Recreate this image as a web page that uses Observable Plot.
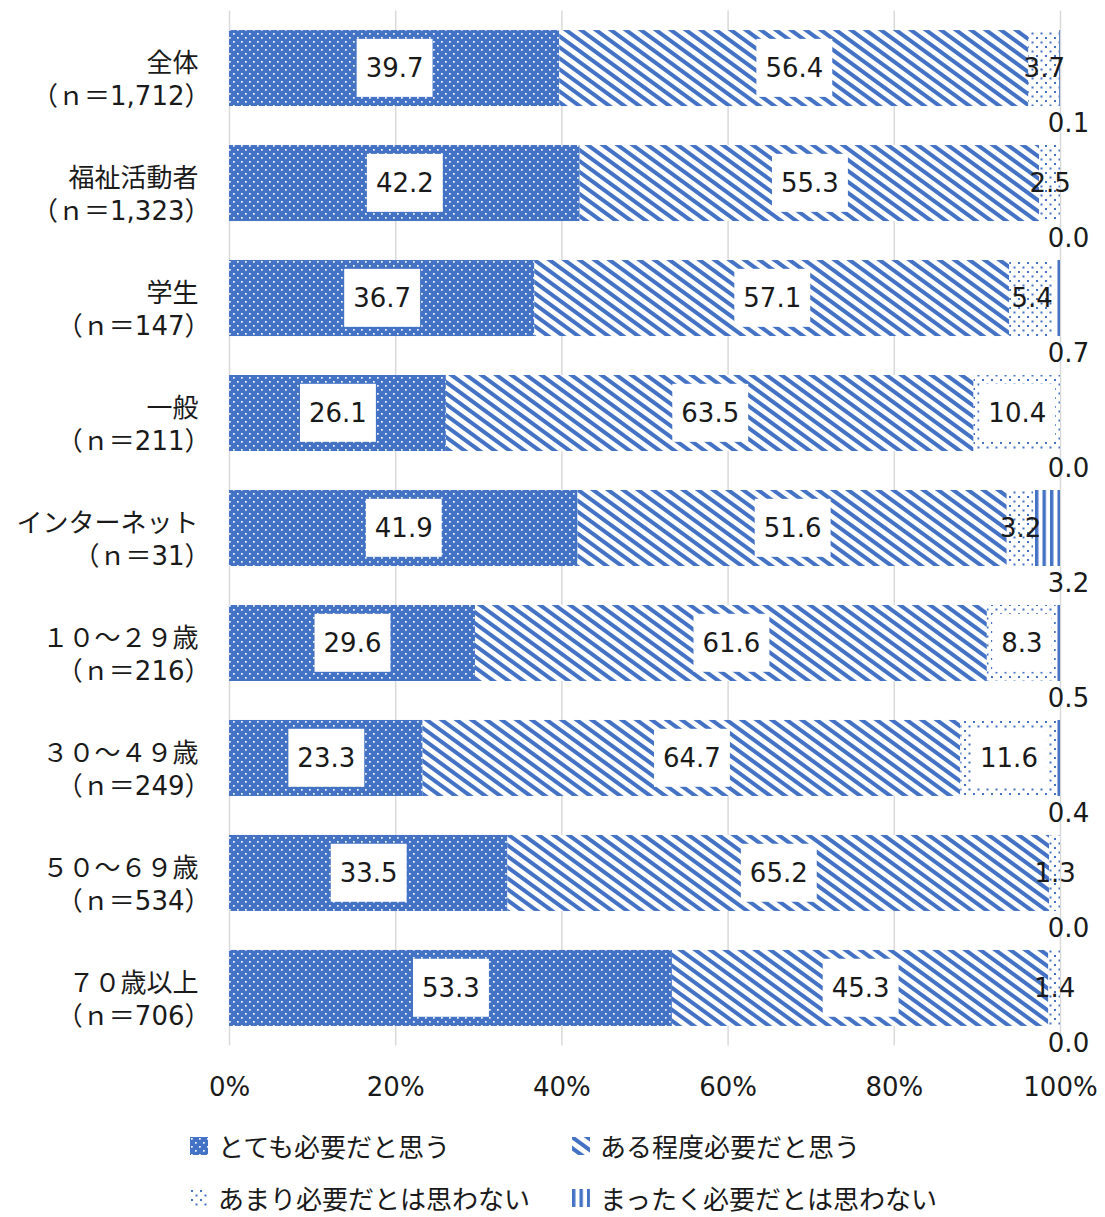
<!DOCTYPE html>
<html><head><meta charset="utf-8">
<script src="https://cdn.jsdelivr.net/npm/d3@7"></script>
<script src="https://cdn.jsdelivr.net/npm/@observablehq/plot@0.6"></script>
<style>
body{margin:0;background:#fff;font-family:"DejaVu Sans","Noto Sans CJK JP",sans-serif;}
#chart{width:1105px;}
.legend{position:relative;width:1105px;height:102px;font-family:"Noto Sans CJK JP",sans-serif;font-size:26px;color:#1a1a1a;}
.item{position:absolute;display:flex;align-items:center;height:34px;white-space:nowrap;line-height:1;}
.sw{width:18px;height:18px;margin-right:10px;display:block;}
</style></head>
<body>
<div id="chart"></div>
<div class="legend" id="legend"></div>
<script>
const groups = ["全体","福祉活動者","学生","一般","インターネット","１０～２９歳","３０～４９歳","５０～６９歳","７０歳以上"];
const sampleSizes = ["1,712","1,323","147","211","31","216","249","534","706"];
const series = ["とても必要だと思う","ある程度必要だと思う","あまり必要だとは思わない","まったく必要だとは思わない"];
const veryNeeded     = [39.7,42.2,36.7,26.1,41.9,29.6,23.3,33.5,53.3];
const somewhatNeeded = [56.4,55.3,57.1,63.5,51.6,61.6,64.7,65.2,45.3];
const notVeryNeeded  = [3.7,2.5,5.4,10.4,3.2,8.3,11.6,1.3,1.4];
const notAtAllNeeded = [0.1,0.0,0.7,0.0,3.2,0.5,0.4,0.0,0.0];
const xTicks = [0,0.2,0.4,0.6,0.8,1];
const patternFills = ["url(#pat0)","url(#pat1)","url(#pat2)","url(#pat3)"];

const labels = groups.map((g,i) => `${g}（ｎ＝${sampleSizes[i]}）`);
const seriesValues = [veryNeeded, somewhatNeeded, notVeryNeeded, notAtAllNeeded];
const rows = [];
labels.forEach((lab,i) => series.forEach((s,j) => rows.push({cat: lab, series: s, idx: j, value: seriesValues[j][i]})));

const stackOpts = {x: "value", y: "cat", z: "series", offset: "normalize"};
const fmt = v => v.toFixed(1);

const plot = Plot.plot({
  width: 1105, height: 1115,
  marginLeft: 229, marginRight: 45, marginTop: 10.5, marginBottom: 69.5,
  style: {fontFamily: '"DejaVu Sans","Noto Sans CJK JP",sans-serif', fontSize: "26px", color: "#1a1a1a", background: "white"},
  x: {domain: [0,1]},
  y: {domain: labels, paddingInner: 0.339, paddingOuter: 0.17, round: false, axis: null},
  color: {domain: series, range: patternFills},
  marks: [
    Plot.gridX(xTicks, {stroke: "#d9d9d9", strokeOpacity: 1, strokeWidth: 1.5}),
    Plot.axisX(xTicks, {tickFormat: d3.format(".0%"), tickSize: 0, tickPadding: 32, fontSize: 26, label: null}),
    Plot.barX(rows, Plot.stackX({...stackOpts, fill: "series"})),
    Plot.text(rows, Plot.stackX({...stackOpts, className: "boxed", fontSize: 26,
      text: d => (d.idx < 2 || (d.idx === 2 && d.value >= 8)) ? fmt(d.value) : null})),
    Plot.text(rows, Plot.stackX({...stackOpts, fontSize: 26,
      text: d => (d.idx === 2 && d.value < 8) ? fmt(d.value) : null})),
    Plot.text(rows, Plot.stackX2({...stackOpts, fontSize: 26, dx: 8, dy: 55,
      text: d => d.idx === 3 ? fmt(d.value) : null})),
    Plot.text(labels, {y: d => d, text: (d,i) => groups[i], frameAnchor: "left", dx: -31, dy: -5, textAnchor: "end", fontSize: 26}),
    Plot.text(labels, {y: d => d, text: (d,i) => `（ｎ＝${sampleSizes[i]}）`, frameAnchor: "left", dx: -19, dy: 28, textAnchor: "end", fontSize: 26})
  ]
});
document.getElementById("chart").appendChild(plot);

const blue = "#4472C4";
const defsHtml = `
<pattern id="pat0" patternUnits="userSpaceOnUse" width="8" height="8">
  <rect width="8" height="8" fill="${blue}"/>
  <rect x="1" y="1" width="1.7" height="1.7" fill="#fff" fill-opacity="0.95"/>
  <rect x="5" y="5" width="1.7" height="1.7" fill="#fff" fill-opacity="0.95"/>
</pattern>
<pattern id="pat1" patternUnits="userSpaceOnUse" width="15" height="11">
  <rect width="15" height="11" fill="#fff"/>
  <path d="M-15,-11L30,22M0,-11L45,22M-30,-11L15,22" stroke="${blue}" stroke-width="4"/>
</pattern>
<pattern id="pat2" patternUnits="userSpaceOnUse" width="9" height="9">
  <rect width="9" height="9" fill="#fff"/>
  <rect x="1" y="1" width="2" height="2" fill="${blue}"/>
  <rect x="5.5" y="5.5" width="2" height="2" fill="${blue}"/>
</pattern>
<pattern id="pat3" patternUnits="userSpaceOnUse" width="7.5" height="8">
  <rect width="7.5" height="8" fill="#fff"/>
  <rect x="0" width="3.4" height="8" fill="${blue}"/>
</pattern>`;
const svgSel = d3.select(plot);
svgSel.insert("defs", ":first-child").html(defsHtml);

// white boxes behind labels
svgSel.selectAll(".boxed text").each(function() {
  const bb = this.getBBox();
  const cy = bb.y + bb.height / 2;
  const r = document.createElementNS("http://www.w3.org/2000/svg", "rect");
  r.setAttribute("x", bb.x - 9);
  r.setAttribute("y", cy - 29);
  r.setAttribute("width", bb.width + 18);
  r.setAttribute("height", 58);
  r.setAttribute("fill", "#fff");
  const t = this.getAttribute("transform");
  if (t) r.setAttribute("transform", t);
  this.parentNode.insertBefore(r, this);
});

// legend
const legend = d3.select("#legend");
const pos = [[190,14],[572,14],[190,66],[572,66]];
series.forEach((s,i) => {
  const it = legend.append("div").attr("class","item").style("left", pos[i][0]+"px").style("top", pos[i][1]+"px");
  it.append("svg").attr("class","sw").attr("width",18).attr("height",18)
    .append("rect").attr("width",18).attr("height",18).attr("fill", patternFills[i]);
  it.append("span").text(s);
});
</script>
</body></html>
